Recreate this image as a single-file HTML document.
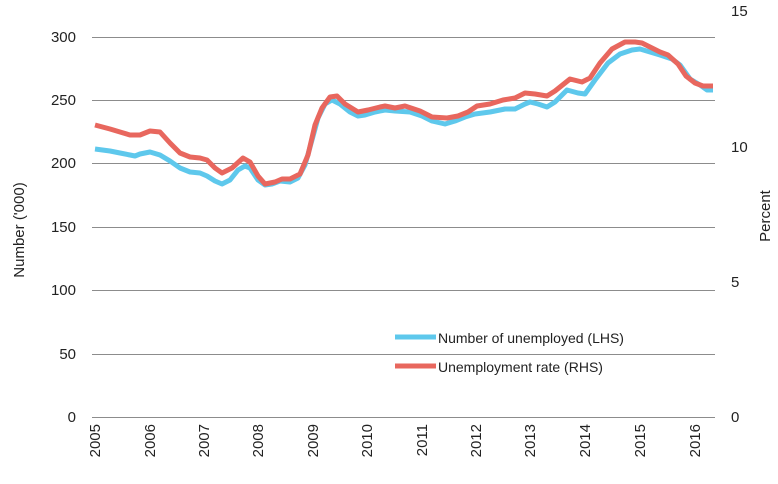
<!DOCTYPE html>
<html><head><meta charset="utf-8"><style>
html,body{margin:0;padding:0;background:#fff;}
svg text{font-family:"Liberation Sans",sans-serif;fill:#222;}
</style></head><body>
<svg width="778" height="479" viewBox="0 0 778 479" xmlns="http://www.w3.org/2000/svg">
<g stroke="#8c8c8c" stroke-width="1">
<line x1="92" x2="715" y1="37.5" y2="37.5"/>
<line x1="92" x2="715" y1="100.5" y2="100.5"/>
<line x1="92" x2="715" y1="163.5" y2="163.5"/>
<line x1="92" x2="715" y1="227.5" y2="227.5"/>
<line x1="92" x2="715" y1="290.5" y2="290.5"/>
<line x1="92" x2="715" y1="354.5" y2="354.5"/>
<line x1="92" x2="715" y1="417.5" y2="417.5"/>
</g>
<g font-size="15" text-anchor="end">
<text x="76" y="42">300</text>
<text x="76" y="105">250</text>
<text x="76" y="168">200</text>
<text x="76" y="232">150</text>
<text x="76" y="295">100</text>
<text x="76" y="359">50</text>
<text x="76" y="422">0</text>
</g>
<g font-size="15" text-anchor="start">
<text x="731" y="16">15</text>
<text x="731" y="152">10</text>
<text x="731" y="287">5</text>
<text x="731" y="422">0</text>
</g>
<text font-size="15" transform="translate(24,230) rotate(-90)" text-anchor="middle">Number ('000)</text>
<text font-size="15" transform="translate(770,216) rotate(-90)" text-anchor="middle">Percent</text>
<g font-size="15" text-anchor="end">
<text transform="translate(100,424) rotate(-90)">2005</text>
<text transform="translate(155,424) rotate(-90)">2006</text>
<text transform="translate(209,424) rotate(-90)">2007</text>
<text transform="translate(263,424) rotate(-90)">2008</text>
<text transform="translate(318,424) rotate(-90)">2009</text>
<text transform="translate(372,424) rotate(-90)">2010</text>
<text transform="translate(427,424) rotate(-90)">2011</text>
<text transform="translate(481,424) rotate(-90)">2012</text>
<text transform="translate(535,424) rotate(-90)">2013</text>
<text transform="translate(590,424) rotate(-90)">2014</text>
<text transform="translate(645,424) rotate(-90)">2015</text>
<text transform="translate(700,424) rotate(-90)">2016</text>
</g>
<polyline fill="none" stroke="#5ec8ec" stroke-width="5" stroke-linejoin="round" points="95,149 110,151 120,153 130,155 135,156 140,154 150,152 160,155 170,161 180,168 190,172 200,173 207,176 215,181 222,184 230,180 238,170 245,166 250,168 258,180 265,185 272,184 280,181 290,182 298,178 305,165 312,140 318,118 325,104 332,100 340,104 350,112 358,116 365,115 375,112 385,110 395,111 410,112 422,116 432,121 445,124 455,121 465,117 475,114 490,112 505,109 515,109 525,104 530,102 538,104 547,107 555,102 567,90 578,93 585,94 595,80 608,63 620,54 632,50 640,49 650,52 660,55 672,59 680,65 690,79 700,85 707,90 713,90"/>
<polyline fill="none" stroke="#e8675e" stroke-width="5" stroke-linejoin="round" points="95,125 110,129 120,132 130,135 140,135 150,131 160,132 170,143 180,153 190,157 200,158 207,160 215,168 222,173 232,168 243,158 250,162 258,176 265,184 275,182 282,179 290,179 300,174 308,155 315,125 322,108 330,97 337,96 345,104 358,112 368,110 380,107 385,106 395,108 405,106 420,111 432,117 447,118 458,116 468,112 477,106 490,104 503,100 515,98 525,93 535,94 547,96 555,91 570,79 582,82 590,78 600,63 612,49 625,42 635,42 642,43 650,47 660,52 668,55 678,64 686,76 695,83 703,86 713,86"/>
<line x1="395" x2="436" y1="337" y2="337" stroke="#5ec8ec" stroke-width="5"/>
<line x1="395" x2="436" y1="366" y2="366" stroke="#e8675e" stroke-width="5"/>
<text x="438" y="343" font-size="14">Number of unemployed (LHS)</text>
<text x="438" y="372" font-size="14">Unemployment rate (RHS)</text>
</svg>
</body></html>
